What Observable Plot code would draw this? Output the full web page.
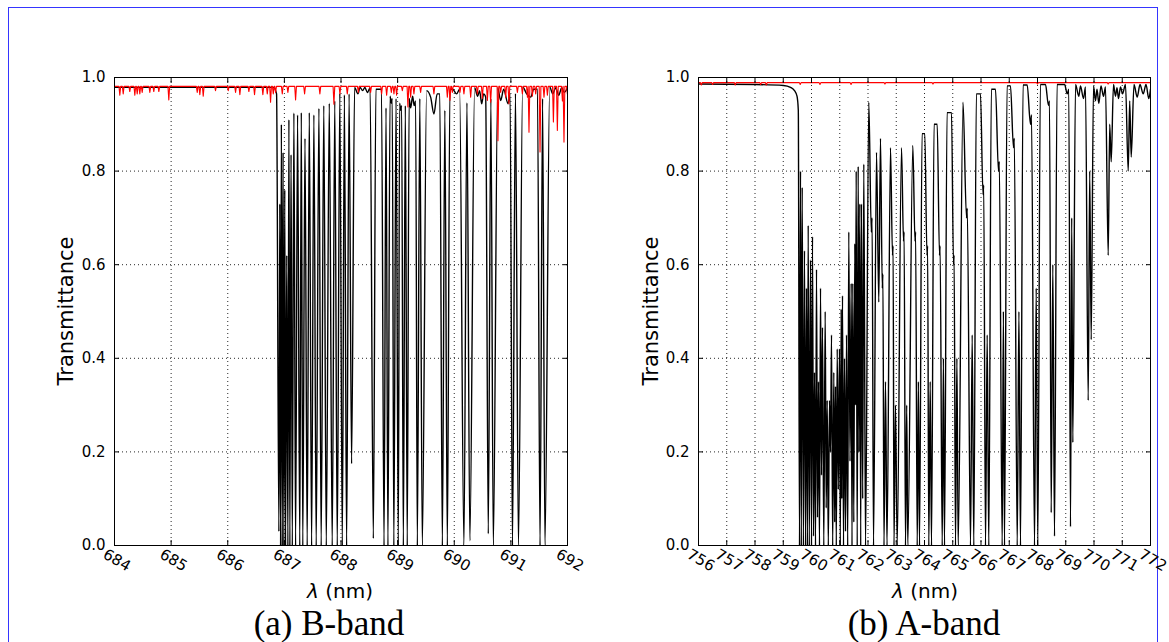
<!DOCTYPE html>
<html><head><meta charset="utf-8">
<script src="https://cdn.jsdelivr.net/npm/d3@7"></script>
<script src="https://cdn.jsdelivr.net/npm/@observablehq/plot@0.6"></script>
<style>
html,body{margin:0;padding:0;background:#fff;overflow:hidden;width:1169px;height:642px;}
#page{position:relative;width:1169px;height:642px;overflow:hidden;}
.border{position:absolute;left:8px;top:7px;width:1148px;height:700px;border:1px solid #3535ff;}
.panel{position:absolute;top:0;}
.ylab{position:absolute;font-family:"DejaVu Sans";font-size:21px;line-height:1;transform:translate(-50%,-50%) rotate(-90deg);white-space:nowrap;}
.xlab{position:absolute;font-family:"DejaVu Sans";font-size:20px;line-height:1;transform:translateX(-50%);white-space:nowrap;}
.cap{position:absolute;font-family:"Liberation Serif";font-size:35px;line-height:1;transform:translateX(-50%);white-space:nowrap;}
</style></head>
<body>
<div id="page">
  <div class="border"></div>
  <div class="panel" id="pa" style="left:0px;width:600px;"></div>
  <div class="panel" id="pb" style="left:584px;width:585px;"></div>
  <div class="ylab" style="left:66px;top:311px;">Transmittance</div>
  <div class="ylab" style="left:651px;top:311px;">Transmittance</div>
  <div class="xlab" style="left:340px;top:581px;"><i>λ</i> (nm)</div>
  <div class="xlab" style="left:925px;top:581px;"><i>λ</i> (nm)</div>
  <div class="cap" style="left:329px;top:606px;">(a) B-band</div>
  <div class="cap" style="left:924px;top:606px;">(b) A-band</div>
</div>
<script>
// ---------- tick values ----------
const yTicks = [0, 0.2, 0.4, 0.6, 0.8, 1.0];
const bandBTicks = [684, 685, 686, 687, 688, 689, 690, 691, 692];
const bandATicks = [756, 757, 758, 759, 760, 761, 762, 763, 764, 765, 766, 767, 768, 769, 770, 771, 772];

// ---------- (a) B-band: black (O2) turning points ----------
const bandBBlackNm = [
  684.000, 686.809, 686.862, 686.903, 686.919, 686.933, 686.947, 686.963, 686.977, 686.991,
  687.007, 687.021, 687.042, 687.062, 687.080, 687.097, 687.118, 687.140, 687.168, 687.198,
  687.233, 687.272, 687.299, 687.325, 687.364, 687.403, 687.440, 687.481, 687.521, 687.562,
  687.610, 687.650, 687.696, 687.740, 687.793, 687.845, 687.890, 687.934, 687.979, 688.023,
  688.060, 688.099, 688.143, 688.187, 688.240, 688.299, 688.337, 688.382, 688.422, 688.465,
  688.514, 688.571, 688.664, 688.760, 688.795, 688.829, 688.866, 688.887, 688.905, 688.933,
  688.972, 689.012, 689.035, 689.053, 689.071, 689.101, 689.136, 689.170, 689.203, 689.230,
  689.265, 689.292, 689.318, 689.348, 689.392, 689.436, 689.512, 689.583, 689.641, 689.698,
  689.790, 689.834, 689.878, 689.972, 690.042, 690.095, 690.171, 690.224, 690.276, 690.360,
  690.413, 690.448, 690.484, 690.519, 690.555, 690.601, 690.647, 690.690, 690.767, 690.820,
  690.873, 690.949, 690.986, 691.028, 691.081, 691.134, 691.208, 691.279, 691.350, 691.403,
  691.515, 691.560, 691.602, 691.686, 691.739, 691.792, 691.845, 691.898, 691.942, 692.000
];
const bandBBlackT = [
  0.979, 0.979, 0.965, 0.030, 0.730, 0.000, 0.900, 0.000, 0.840, 0.000,
  0.760, 0.000, 0.620, 0.000, 0.910, 0.000, 0.835, 0.000, 0.924, 0.000,
  0.920, 0.000, 0.925, 0.000, 0.870, 0.000, 0.925, 0.000, 0.920, 0.000,
  0.934, 0.000, 0.940, 0.000, 0.945, 0.000, 0.950, 0.000, 0.966, 0.000,
  0.963, 0.000, 0.965, 0.175, 0.979, 0.965, 0.979, 0.972, 0.979, 0.968,
  0.978, 0.015, 0.975, 0.000, 0.935, 0.000, 0.960, 0.945, 0.955, 0.000,
  0.955, 0.000, 0.945, 0.930, 0.940, 0.000, 0.940, 0.000, 0.955, 0.935,
  0.960, 0.940, 0.950, 0.000, 0.955, 0.000, 0.972, 0.958, 0.922, 0.965,
  0.000, 0.930, 0.000, 0.975, 0.965, 0.975, 0.000, 0.946, 0.010, 0.978,
  0.960, 0.972, 0.944, 0.965, 0.958, 0.025, 0.955, 0.000, 0.978, 0.951,
  0.975, 0.944, 0.966, 0.000, 0.966, 0.000, 0.980, 0.965, 0.958, 0.975,
  0.000, 0.955, 0.000, 0.980, 0.965, 0.978, 0.962, 0.978, 0.968, 0.978
];

// ---------- (a) B-band: red (H2O) line dips ----------
const bandBRedBase = 0.981;
const bandBRedNm = [
  684.094, 684.154, 684.270, 684.359, 684.401, 684.447, 684.489, 684.624, 684.694, 684.783,
  684.959, 685.461, 685.507, 685.567, 685.784, 686.009, 686.138, 686.214, 686.373, 686.473,
  686.620, 686.698, 686.756, 686.804, 686.845, 686.963, 687.062, 687.198, 687.357, 687.627,
  687.875, 687.981, 688.111, 688.306, 688.523, 688.717, 688.806, 688.889, 688.935, 688.982,
  689.083, 689.182, 689.230, 689.288, 689.406, 689.641, 689.878, 689.924, 689.966, 690.101,
  690.171, 690.290, 690.408, 690.496, 690.585, 690.643, 690.772, 690.820, 690.908, 690.966,
  691.115, 691.203, 691.292, 691.320, 691.380, 691.438, 691.515, 691.585, 691.645, 691.751,
  691.821, 691.910, 691.938, 691.998
];
const bandBRedT = [
  0.962, 0.965, 0.970, 0.962, 0.965, 0.965, 0.968, 0.968, 0.970, 0.970,
  0.952, 0.968, 0.963, 0.960, 0.972, 0.972, 0.968, 0.963, 0.970, 0.963,
  0.963, 0.965, 0.947, 0.965, 0.968, 0.965, 0.968, 0.952, 0.965, 0.965,
  0.943, 0.965, 0.965, 0.968, 0.968, 0.965, 0.962, 0.968, 0.965, 0.962,
  0.972, 0.937, 0.958, 0.965, 0.968, 0.965, 0.958, 0.951, 0.968, 0.968,
  0.965, 0.958, 0.965, 0.955, 0.951, 0.947, 0.865, 0.968, 0.958, 0.944,
  0.968, 0.965, 0.958, 0.883, 0.960, 0.965, 0.841, 0.958, 0.962, 0.905,
  0.887, 0.950, 0.862, 0.965
];

// ---------- (b) A-band: black (O2) turning points ----------
const bandABlackNm = [
  756.000, 758.018, 759.009, 759.257, 759.398, 759.487, 759.533, 759.575, 759.611, 759.639,
  759.671, 759.713, 759.752, 759.788, 759.823, 759.855, 759.883, 759.922, 759.965, 760.000,
  760.035, 760.071, 760.106, 760.142, 760.177, 760.212, 760.248, 760.283, 760.319, 760.354,
  760.389, 760.435, 760.485, 760.520, 760.556, 760.595, 760.637, 760.673, 760.708, 760.750,
  760.790, 760.821, 760.850, 760.878, 760.910, 760.949, 760.991, 761.019, 761.051, 761.073,
  761.097, 761.133, 761.168, 761.204, 761.239, 761.281, 761.320, 761.363, 761.405, 761.434,
  761.462, 761.497, 761.533, 761.558, 761.582, 761.618, 761.653, 761.681, 761.710, 761.742,
  761.770, 761.812, 761.851, 761.912, 762.028, 762.117, 762.145, 762.195, 762.301, 762.382,
  762.442, 762.506, 762.527, 762.566, 762.619, 762.673, 762.796, 762.867, 762.889, 762.920,
  762.973, 763.034, 763.186, 763.257, 763.278, 763.327, 763.370, 763.409, 763.586, 763.664,
  763.685, 763.742, 763.784, 763.823, 764.011, 764.088, 764.110, 764.152, 764.202, 764.248,
  764.450, 764.531, 764.552, 764.627, 764.669, 764.708, 764.956, 765.027, 765.048, 765.097,
  765.147, 765.193, 765.363, 765.487, 765.515, 765.628, 765.688, 765.745, 765.982, 766.071,
  766.096, 766.159, 766.219, 766.276, 766.513, 766.619, 766.648, 766.750, 766.793, 766.832,
  767.044, 767.150, 767.179, 767.282, 767.342, 767.398, 767.635, 767.752, 767.788, 767.894,
  767.954, 768.011, 768.283, 768.389, 768.425, 768.485, 768.542, 768.602, 768.814, 769.051,
  769.108, 769.168, 769.211, 769.250, 769.345, 769.462, 769.522, 769.628, 769.699, 769.795,
  769.848, 769.901, 769.982, 770.053, 770.106, 770.170, 770.248, 770.336, 770.407, 770.503,
  770.556, 770.609, 770.690, 770.761, 770.814, 770.867, 770.938, 771.009, 771.115, 771.211,
  771.264, 771.317, 771.416, 771.529, 771.628, 771.742, 771.841, 771.940, 772.000
];
const bandABlackT = [
  0.986, 0.985, 0.983, 0.979, 0.972, 0.960, 0.930, 0.000, 0.800, 0.000,
  0.765, 0.000, 0.630, 0.000, 0.550, 0.000, 0.684, 0.000, 0.610, 0.000,
  0.660, 0.020, 0.370, 0.000, 0.590, 0.060, 0.350, 0.000, 0.550, 0.150,
  0.466, 0.000, 0.500, 0.080, 0.310, 0.000, 0.310, 0.200, 0.450, 0.000,
  0.370, 0.050, 0.340, 0.000, 0.420, 0.120, 0.420, 0.000, 0.505, 0.100,
  0.534, 0.000, 0.400, 0.030, 0.450, 0.000, 0.670, 0.180, 0.560, 0.000,
  0.560, 0.050, 0.645, 0.300, 0.800, 0.000, 0.810, 0.200, 0.730, 0.000,
  0.730, 0.100, 0.815, 0.000, 0.947, 0.670, 0.700, 0.000, 0.840, 0.520,
  0.870, 0.550, 0.580, 0.000, 0.350, 0.000, 0.850, 0.620, 0.640, 0.000,
  0.300, 0.000, 0.850, 0.650, 0.670, 0.000, 0.300, 0.000, 0.855, 0.650,
  0.670, 0.000, 0.350, 0.000, 0.880, 0.620, 0.640, 0.000, 0.350, 0.000,
  0.900, 0.620, 0.640, 0.000, 0.400, 0.000, 0.925, 0.600, 0.620, 0.000,
  0.400, 0.000, 0.947, 0.700, 0.720, 0.000, 0.450, 0.000, 0.965, 0.750,
  0.770, 0.000, 0.450, 0.000, 0.975, 0.800, 0.820, 0.000, 0.500, 0.000,
  0.982, 0.850, 0.870, 0.000, 0.500, 0.000, 0.984, 0.900, 0.920, 0.000,
  0.550, 0.000, 0.985, 0.940, 0.950, 0.070, 0.600, 0.020, 0.985, 0.965,
  0.975, 0.040, 0.700, 0.220, 0.985, 0.960, 0.982, 0.955, 0.980, 0.310,
  0.800, 0.440, 0.982, 0.950, 0.975, 0.945, 0.982, 0.960, 0.980, 0.620,
  0.900, 0.820, 0.985, 0.960, 0.978, 0.955, 0.980, 0.965, 0.985, 0.800,
  0.950, 0.830, 0.985, 0.958, 0.985, 0.965, 0.985, 0.955, 0.975
];

// ---------- (b) A-band: red (H2O) line dips ----------
const bandARedBase = 0.989;
const bandARedNm = [756.10, 756.50, 757.30, 758.20, 758.40, 759.60, 760.30, 761.40, 762.60, 764.30, 768.00, 770.50];
const bandARedT  = [0.984, 0.985, 0.984, 0.985, 0.984, 0.985, 0.985, 0.985, 0.986, 0.986, 0.986, 0.986];

// ---------- build tables for the line marks ----------
function blackTable(nm, T, hw) {
  const pts = [];
  const n = Math.min(nm.length, T.length);
  for (let i = 0; i < n; i++) {
    const isMin = i > 0 && i < n - 1 && T[i] < T[i - 1] && T[i] < T[i + 1];
    if (isMin && nm[i] - nm[i - 1] > 2 * hw) pts.push({x: nm[i] - hw, y: T[i - 1]});
    pts.push({x: nm[i], y: T[i]});
    if (isMin && nm[i + 1] - nm[i] > 2 * hw) pts.push({x: nm[i] + hw, y: T[i + 1]});
  }
  return pts;
}
function redTable(x0, x1, base, nm, T, hw) {
  const pts = [{x: x0, y: base}];
  for (let i = 0; i < nm.length; i++) {
    const c = nm[i];
    if (c - hw > pts[pts.length - 1].x) pts.push({x: c - hw, y: base});
    pts.push({x: c, y: T[i]});
    const next = i + 1 < nm.length ? nm[i + 1] : x1;
    if (c + hw < next - hw) pts.push({x: c + hw, y: base});
  }
  pts.push({x: x1, y: base});
  return pts;
}

function panel({domain, ticks, black, red, width}) {
  const gridStyle = {stroke: "#000", strokeOpacity: 0.85, strokeWidth: 1, strokeDasharray: "1,3"};
  return Plot.plot({
    width, height: 600,
    marginLeft: 114, marginTop: 77, marginBottom: 55,
    marginRight: width - 114 - (domain[0] === 684 ? 453 : 452),
    style: {fontFamily: "DejaVu Sans", fontSize: "15px", background: "transparent", overflow: "visible", color: "#000"},
    x: {domain},
    y: {domain: [0, 1]},
    marks: [
      Plot.gridX(ticks, gridStyle),
      Plot.gridY(yTicks, gridStyle),
      Plot.line(black, {x: "x", y: "y", stroke: "#000", strokeWidth: 1.4, curve: "monotone-x", clip: true}),
      Plot.line(red, {x: "x", y: "y", stroke: "#ff0000", strokeWidth: 1.1, clip: true}),
      Plot.frame({stroke: "#000", strokeWidth: 1}),
      Plot.axisY(yTicks, {anchor: "left", tickSize: 0, tickPadding: 9, tickFormat: d3.format(".1f"), label: null, fontSize: 15}),
      Plot.axisY(yTicks, {anchor: "left", tickSize: -5, tickFormat: () => "", label: null}),
      Plot.axisY(yTicks, {anchor: "right", tickSize: -5, tickFormat: () => "", label: null}),
      Plot.axisX(ticks, {anchor: "bottom", tickSize: -5, tickFormat: () => "", label: null}),
      Plot.axisX(ticks, {anchor: "top", tickSize: -5, tickFormat: () => "", label: null}),
      Plot.text(ticks, {x: d => d, frameAnchor: "bottom", dy: 19, rotate: 30, text: d => String(d), fontSize: 15, textAnchor: "middle", fill: "#000"})
    ]
  });
}

document.getElementById("pa").appendChild(panel({
  domain: [684, 692], ticks: bandBTicks, width: 600,
  black: blackTable(bandBBlackNm, bandBBlackT, 0.045),
  red: redTable(684, 692, bandBRedBase, bandBRedNm, bandBRedT, 0.015)
}));
document.getElementById("pb").appendChild(panel({
  domain: [756, 772], ticks: bandATicks, width: 585,
  black: blackTable(bandABlackNm, bandABlackT, 0.09),
  red: redTable(756, 772, bandARedBase, bandARedNm, bandARedT, 0.03)
}));
</script>
</body></html>
